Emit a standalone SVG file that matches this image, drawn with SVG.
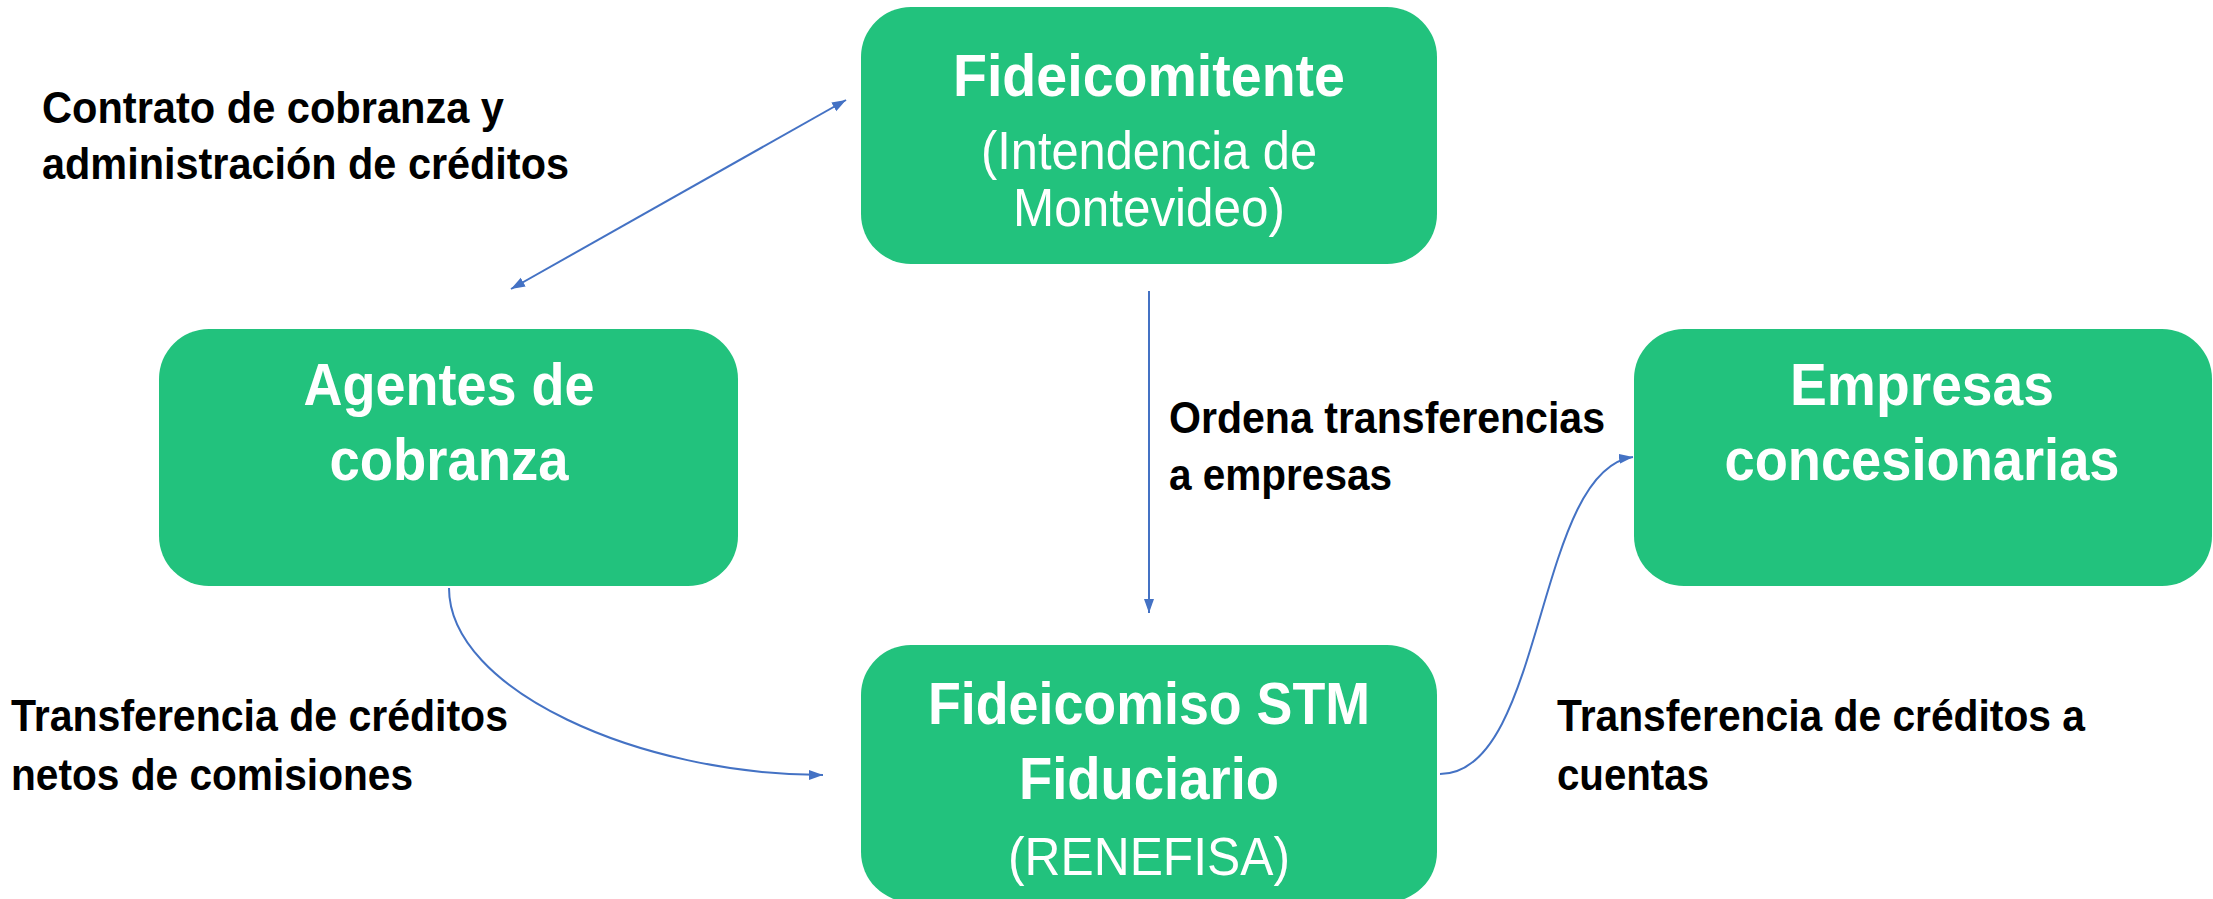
<svg xmlns="http://www.w3.org/2000/svg" width="2213" height="899" viewBox="0 0 2213 899">
  <style>
    .box { fill: #22C27D; }
    .title { font-family: "Liberation Sans", Arial, sans-serif; font-weight: bold; font-size: 59px; fill: #FFFFFF; text-anchor: middle; }
    .sub { font-family: "Liberation Sans", Arial, sans-serif; font-size: 53px; fill: #FFFFFF; text-anchor: middle; }
    .label { font-family: "Liberation Sans", Arial, sans-serif; font-weight: bold; font-size: 44px; fill: #000000; }
    .conn { fill: none; stroke: #4472C4; stroke-width: 2; }
  </style>
  <defs>
    <marker id="arrow" markerUnits="userSpaceOnUse" markerWidth="16" markerHeight="12" refX="14" refY="5" orient="auto-start-reverse">
      <path d="M0,0 L14,5 L0,10 z" fill="#4472C4"/>
    </marker>
  </defs>
  <rect width="2213" height="899" fill="#FFFFFF"/>

  <g id="node-fideicomitente">
    <rect class="box" x="861" y="7" width="576" height="257" rx="50" ry="50"/>
    <text class="title" x="1149" y="96" textLength="392" lengthAdjust="spacingAndGlyphs">Fideicomitente</text>
    <text class="sub" x="1149" y="169" textLength="336" lengthAdjust="spacingAndGlyphs">(Intendencia de</text>
    <text class="sub" x="1149" y="226" textLength="272" lengthAdjust="spacingAndGlyphs">Montevideo)</text>
  </g>

  <g id="node-agentes">
    <rect class="box" x="159" y="329" width="579" height="257" rx="50" ry="50"/>
    <text class="title" x="449" y="405" textLength="291" lengthAdjust="spacingAndGlyphs">Agentes de</text>
    <text class="title" x="449" y="480" textLength="239" lengthAdjust="spacingAndGlyphs">cobranza</text>
  </g>

  <g id="node-empresas">
    <rect class="box" x="1634" y="329" width="578" height="257" rx="50" ry="50"/>
    <text class="title" x="1922" y="405" textLength="264" lengthAdjust="spacingAndGlyphs">Empresas</text>
    <text class="title" x="1922" y="480" textLength="395" lengthAdjust="spacingAndGlyphs">concesionarias</text>
  </g>

  <g id="node-fideicomiso">
    <rect class="box" x="861" y="645" width="576" height="257" rx="50" ry="50"/>
    <text class="title" x="1149" y="724" textLength="442" lengthAdjust="spacingAndGlyphs">Fideicomiso STM</text>
    <text class="title" x="1149" y="799" textLength="260" lengthAdjust="spacingAndGlyphs">Fiduciario</text>
    <text class="sub" x="1149" y="875" textLength="282" lengthAdjust="spacingAndGlyphs">(RENEFISA)</text>
  </g>

  <g id="connectors">
    <line class="conn" x1="511" y1="289" x2="846" y2="100" marker-start="url(#arrow)" marker-end="url(#arrow)"/>
    <line class="conn" x1="1149" y1="291" x2="1149" y2="613" marker-end="url(#arrow)"/>
    <path class="conn" d="M449,588 C449,690 640,775 823,775" marker-end="url(#arrow)"/>
    <path class="conn" d="M1440,774 C1545,774 1535,470 1633,457" marker-end="url(#arrow)"/>
  </g>

  <g id="labels">
    <text class="label" x="42" y="123" textLength="462" lengthAdjust="spacingAndGlyphs">Contrato de cobranza y</text>
    <text class="label" x="42" y="179" textLength="527" lengthAdjust="spacingAndGlyphs">administración de créditos</text>
    <text class="label" x="1169" y="433" textLength="436" lengthAdjust="spacingAndGlyphs">Ordena transferencias</text>
    <text class="label" x="1169" y="490" textLength="223" lengthAdjust="spacingAndGlyphs">a empresas</text>
    <text class="label" x="11" y="731" textLength="497" lengthAdjust="spacingAndGlyphs">Transferencia de créditos</text>
    <text class="label" x="11" y="790" textLength="402" lengthAdjust="spacingAndGlyphs">netos de comisiones</text>
    <text class="label" x="1557" y="731" textLength="528" lengthAdjust="spacingAndGlyphs">Transferencia de créditos a</text>
    <text class="label" x="1557" y="790" textLength="152" lengthAdjust="spacingAndGlyphs">cuentas</text>
  </g>
</svg>
